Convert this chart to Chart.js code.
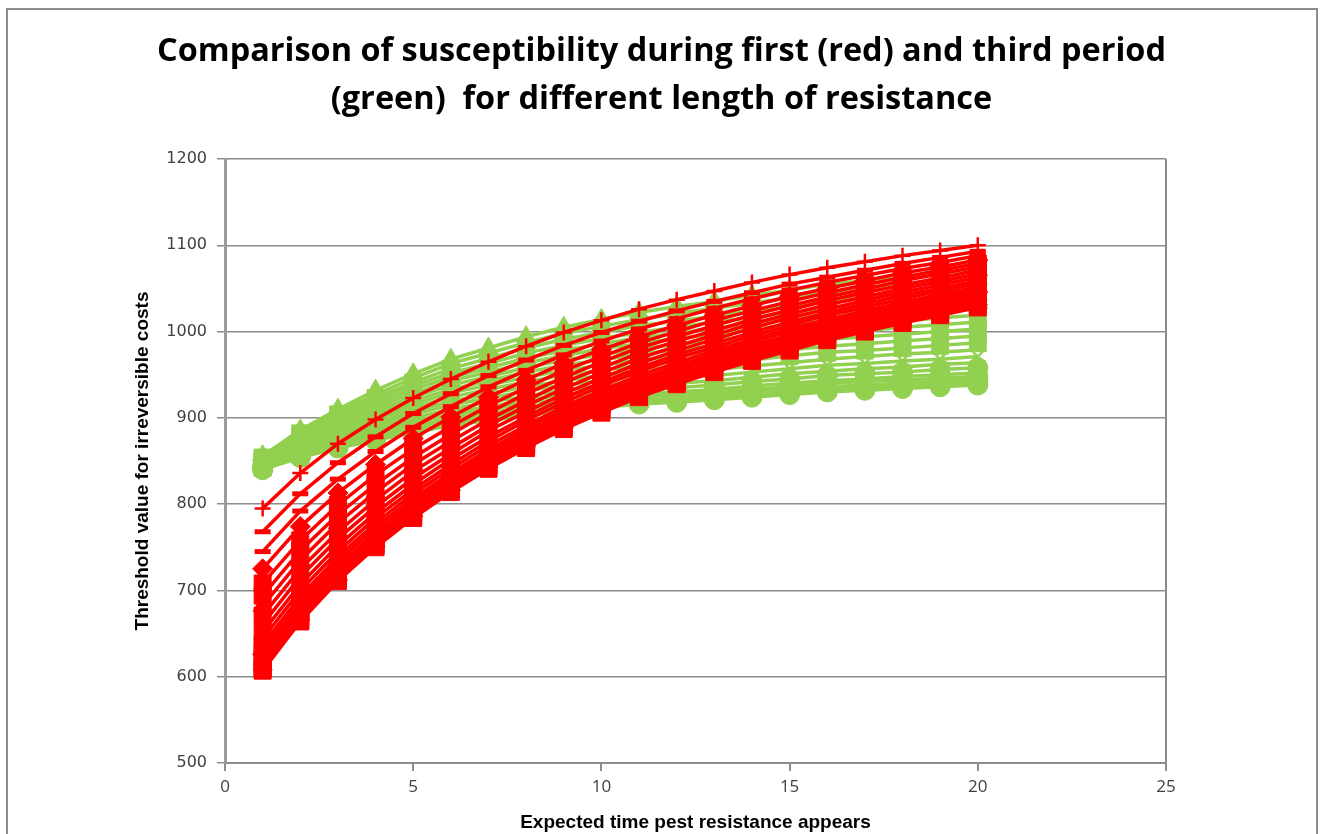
<!DOCTYPE html>
<html>
<head>
<meta charset="utf-8">
<script src="https://cdn.jsdelivr.net/npm/chart.js@4"></script>
<style>
html, body { margin: 0; padding: 0; background: #fff; }
#wrap { position: relative; width: 1323px; height: 834px; }
</style>
</head>
<body>
<div id="wrap"><canvas id="grafica"></canvas></div>
<script>
// x values: expected time pest resistance appears
const tiempos = [1, 2, 3, 4, 5, 6, 7, 8, 9, 10, 11, 12, 13, 14, 15, 16, 17, 18, 19, 20];

// first period (red), top to bottom
const rojo1  = [795, 836, 870, 898, 923, 945, 965, 983, 999, 1013, 1026, 1037, 1047, 1057, 1066, 1074, 1081, 1088, 1094, 1100];
const rojo2  = [768, 812, 848, 878, 905, 928, 949, 967, 984, 999, 1012, 1024, 1035, 1045, 1055, 1063, 1071, 1079, 1086, 1093];
const rojo3  = [745, 792, 829, 861, 889, 913, 936, 955, 973, 989, 1003, 1015, 1027, 1038, 1048, 1057, 1065, 1073, 1080, 1088];
const rojo4  = [725, 774, 813, 846, 876, 901, 924, 944, 963, 979, 994, 1007, 1019, 1030, 1041, 1050, 1059, 1068, 1075, 1083];
const rojo5  = [708, 758, 799, 834, 864, 890, 914, 935, 955, 971, 987, 1000, 1013, 1024, 1035, 1045, 1054, 1063, 1071, 1079];
const rojo6  = [694, 746, 788, 823, 854, 881, 906, 928, 947, 965, 981, 994, 1007, 1019, 1030, 1040, 1049, 1059, 1067, 1075];
const rojo7  = [682, 735, 778, 814, 846, 873, 898, 920, 941, 958, 975, 989, 1001, 1014, 1025, 1036, 1045, 1054, 1062, 1071];
const rojo8  = [671, 725, 768, 805, 838, 865, 891, 914, 934, 952, 969, 983, 996, 1009, 1020, 1031, 1040, 1050, 1058, 1067];
const rojo9  = [661, 716, 760, 797, 830, 858, 885, 907, 928, 946, 963, 978, 991, 1004, 1016, 1026, 1036, 1046, 1054, 1063];
const rojo10 = [652, 707, 752, 790, 823, 852, 878, 901, 923, 941, 958, 973, 986, 999, 1011, 1022, 1032, 1042, 1050, 1059];
const rojo11 = [644, 700, 745, 784, 817, 846, 873, 897, 918, 937, 954, 969, 982, 995, 1007, 1019, 1028, 1038, 1047, 1056];
const rojo12 = [637, 693, 739, 778, 812, 841, 868, 891, 913, 932, 949, 964, 978, 991, 1003, 1014, 1024, 1034, 1043, 1052];
const rojo13 = [631, 688, 734, 773, 807, 836, 863, 887, 909, 928, 945, 960, 974, 988, 1000, 1011, 1021, 1031, 1040, 1049];
const rojo14 = [626, 683, 729, 768, 803, 832, 860, 883, 905, 924, 942, 957, 971, 984, 996, 1008, 1018, 1028, 1037, 1046];
const rojo15 = [621, 678, 725, 764, 799, 828, 856, 880, 902, 921, 938, 954, 967, 981, 993, 1005, 1015, 1025, 1034, 1043];
const rojo16 = [617, 675, 721, 760, 795, 825, 852, 876, 898, 917, 935, 950, 964, 978, 990, 1002, 1012, 1022, 1031, 1040];
const rojo17 = [614, 672, 718, 757, 792, 822, 849, 873, 895, 914, 932, 947, 961, 975, 987, 999, 1009, 1019, 1028, 1037];
const rojo18 = [611, 669, 715, 754, 789, 819, 846, 870, 892, 911, 929, 944, 958, 972, 984, 996, 1006, 1016, 1025, 1034];
const rojo19 = [609, 666, 713, 752, 787, 816, 844, 868, 890, 909, 926, 942, 955, 969, 981, 993, 1003, 1013, 1022, 1031];
const rojo20 = [607, 664, 711, 750, 784, 814, 841, 865, 887, 906, 924, 939, 953, 966, 978, 990, 1000, 1010, 1019, 1028];

// third period (green), top to bottom
const verde1  = [856, 886, 910, 932, 951, 968, 981, 994, 1005, 1014, 1022, 1029, 1035, 1042, 1048, 1055, 1059, 1063, 1068, 1072];
const verde2  = [855, 884, 907, 927, 946, 963, 975, 987, 998, 1006, 1014, 1021, 1027, 1033, 1039, 1045, 1050, 1054, 1058, 1062];
const verde3  = [854, 882, 904, 923, 941, 957, 969, 981, 991, 999, 1007, 1012, 1018, 1024, 1030, 1036, 1040, 1044, 1048, 1052];
const verde4  = [853, 880, 901, 920, 937, 952, 963, 975, 984, 992, 999, 1005, 1011, 1016, 1022, 1028, 1032, 1035, 1039, 1043];
const verde5  = [852, 878, 898, 916, 933, 947, 958, 969, 978, 986, 993, 998, 1004, 1009, 1015, 1020, 1024, 1028, 1031, 1035];
const verde6  = [851, 876, 895, 913, 928, 943, 953, 964, 972, 980, 986, 992, 997, 1002, 1008, 1013, 1016, 1020, 1024, 1027];
const verde7  = [850, 874, 892, 909, 924, 938, 948, 958, 967, 973, 980, 985, 990, 995, 1000, 1005, 1009, 1012, 1016, 1019];
const verde8  = [849, 872, 890, 906, 920, 933, 943, 953, 961, 967, 974, 979, 983, 988, 993, 998, 1001, 1005, 1008, 1011];
const verde9  = [848, 870, 887, 902, 916, 929, 938, 947, 955, 961, 967, 972, 977, 981, 986, 991, 994, 997, 1000, 1003];
const verde10 = [847, 868, 884, 899, 912, 924, 933, 942, 949, 955, 961, 965, 970, 974, 979, 983, 986, 989, 992, 995];
const verde11 = [846, 866, 881, 895, 908, 919, 928, 936, 943, 949, 955, 959, 963, 967, 972, 976, 978, 981, 984, 987];
const verde12 = [845, 864, 879, 892, 904, 915, 923, 931, 938, 943, 948, 952, 956, 960, 964, 968, 971, 974, 976, 979];
const verde13 = [844, 862, 876, 889, 900, 910, 918, 925, 932, 937, 942, 946, 949, 953, 957, 961, 963, 966, 968, 971];
const verde14 = [843, 860, 873, 885, 896, 906, 913, 920, 927, 931, 936, 940, 943, 947, 951, 954, 957, 959, 962, 964];
const verde15 = [843, 859, 872, 883, 894, 903, 910, 917, 922, 927, 932, 935, 938, 942, 945, 949, 951, 953, 956, 958];
const verde16 = [842, 857, 870, 881, 890, 899, 906, 912, 918, 922, 927, 930, 933, 937, 940, 943, 945, 948, 950, 952];
const verde17 = [842, 857, 869, 879, 889, 897, 903, 910, 915, 919, 924, 927, 930, 933, 936, 940, 942, 944, 946, 948];
const verde18 = [841, 855, 867, 877, 886, 895, 901, 907, 912, 916, 920, 923, 927, 930, 933, 936, 938, 940, 942, 944];
const verde19 = [841, 855, 866, 876, 885, 893, 899, 905, 910, 914, 918, 921, 924, 927, 930, 933, 935, 937, 939, 941];
const verde20 = [840, 854, 865, 874, 883, 891, 897, 903, 908, 912, 916, 918, 921, 924, 927, 930, 932, 934, 936, 938];

const marcasX = [0, 5, 10, 15, 20, 25];
const marcasY = [500, 600, 700, 800, 900, 1000, 1100, 1200];

const seriesRojas = [rojo1, rojo2, rojo3, rojo4, rojo5, rojo6, rojo7, rojo8, rojo9, rojo10,
                     rojo11, rojo12, rojo13, rojo14, rojo15, rojo16, rojo17, rojo18, rojo19, rojo20];
const seriesVerdes = [verde1, verde2, verde3, verde4, verde5, verde6, verde7, verde8, verde9, verde10,
                      verde11, verde12, verde13, verde14, verde15, verde16, verde17, verde18, verde19, verde20];

const marcadoresRojos = ['cross', 'line', 'line', 'rectRot', 'rect', 'rect', 'triangle', 'rect', 'crossRot', 'rect',
                         'star', 'rect', 'rect', 'rectRot', 'rect', 'rect', 'triangle', 'rect', 'rect', 'rect'];
const marcadoresVerdes = ['triangle', 'triangle', 'rect', 'triangle', 'rect', 'rectRot', 'rect', 'line', 'rect', 'line',
                          'rect', 'line', 'crossRot', 'line', 'circle', 'rect', 'circle', 'circle', 'circle', 'circle'];

const ROJO = '#ff0000';
const VERDE = '#92d050';

function radioMarcador(estilo) {
    switch (estilo) {
        case 'rect': return 12;
        case 'circle': return 10;
        case 'triangle': return 11;
        case 'rectRot': return 10;
        case 'cross': return 8;
        case 'crossRot': return 7;
        case 'star': return 8;
        case 'line': return 8;
        default: return 8;
    }
}

function crearSerie(valores, color, estilo, etiqueta) {
    const soloTrazo = (estilo === 'cross' || estilo === 'line' || estilo === 'crossRot' || estilo === 'star');
    return {
        label: etiqueta,
        data: tiempos.map((t, i) => ({ x: t, y: valores[i] })),
        borderColor: color,
        backgroundColor: color,
        borderWidth: 3.5,
        pointStyle: estilo,
        pointRadius: radioMarcador(estilo),
        pointBorderWidth: soloTrazo ? (estilo === 'line' ? 5 : 2.5) : 1,
        pointBackgroundColor: color,
        pointBorderColor: color,
        showLine: true,
        tension: 0,
        fill: false
    };
}

// red first so it is drawn on top of green
const datasets = [];
seriesRojas.forEach((s, i) => datasets.push(crearSerie(s, ROJO, marcadoresRojos[i], 'first ' + (i + 1))));
seriesVerdes.forEach((s, i) => datasets.push(crearSerie(s, VERDE, marcadoresVerdes[i], 'third ' + (i + 1))));

// white background and outer frame like the spreadsheet chart
const marco = {
    id: 'marco',
    beforeDraw(chart) {
        const ctx = chart.ctx;
        ctx.save();
        ctx.fillStyle = '#ffffff';
        ctx.fillRect(0, 0, chart.width, chart.height);
        ctx.strokeStyle = '#8c8c8c';
        ctx.lineWidth = 2;
        ctx.strokeRect(7, 9, 1310, 860);
        ctx.restore();
    }
};

new Chart(document.getElementById('grafica'), {
    type: 'scatter',
    data: { datasets },
    plugins: [marco],
    options: {
        responsive: true,
        maintainAspectRatio: false,
        animation: false,
        devicePixelRatio: 1,
        layout: { padding: { left: 157, right: 157, top: 0, bottom: 0 } },
        plugins: {
            legend: { display: false },
            tooltip: { enabled: false },
            title: {
                display: true,
                text: ['Comparison of susceptibility during first (red) and third period',
                       '(green)  for different length of resistance'],
                color: '#000000',
                font: { family: '"Open Sans", sans-serif', size: 32.5, weight: 'bold', lineHeight: '48px' },
                padding: { top: 28, bottom: 35 }
            }
        },
        scales: {
            x: {
                type: 'linear',
                min: 0,
                max: 25,
                afterBuildTicks: (axis) => { axis.ticks = marcasX.map(v => ({ value: v })); },
                afterFit: (axis) => { axis.height = 71; },
                ticks: {
                    color: '#404040',
                    padding: 6,
                    font: { family: '"Open Sans", sans-serif', size: 17 }
                },
                grid: {
                    drawOnChartArea: true,
                    color: (c) => (c.tick && c.tick.value === 25 ? '#8c8c8c' : 'rgba(0,0,0,0)'),
                    tickColor: '#8c8c8c',
                    tickLength: 8,
                    lineWidth: 2
                },
                border: { color: '#8c8c8c', width: 2 },
                title: {
                    display: true,
                    text: 'Expected time pest resistance appears',
                    color: '#000000',
                    font: { family: '"Liberation Sans", sans-serif', size: 19, weight: 'bold' },
                    padding: { top: 0, bottom: 0 }
                }
            },
            y: {
                type: 'linear',
                min: 500,
                max: 1200,
                afterBuildTicks: (axis) => { axis.ticks = marcasY.map(v => ({ value: v })); },
                afterFit: (axis) => { axis.width = 68; },
                ticks: {
                    color: '#404040',
                    padding: 10,
                    font: { family: '"DejaVu Sans", sans-serif', size: 16 },
                    callback: (v) => String(v)
                },
                grid: {
                    color: '#8c8c8c',
                    lineWidth: 1.5,
                    tickLength: 8
                },
                border: { color: '#9a9a9a', width: 3 },
                title: {
                    display: true,
                    text: 'Threshold value for irreversible costs',
                    color: '#000000',
                    font: { family: '"Liberation Sans", sans-serif', size: 19, weight: 'bold' },
                    padding: { top: -26, bottom: 0 }
                }
            }
        }
    }
});
</script>
</body>
</html>
